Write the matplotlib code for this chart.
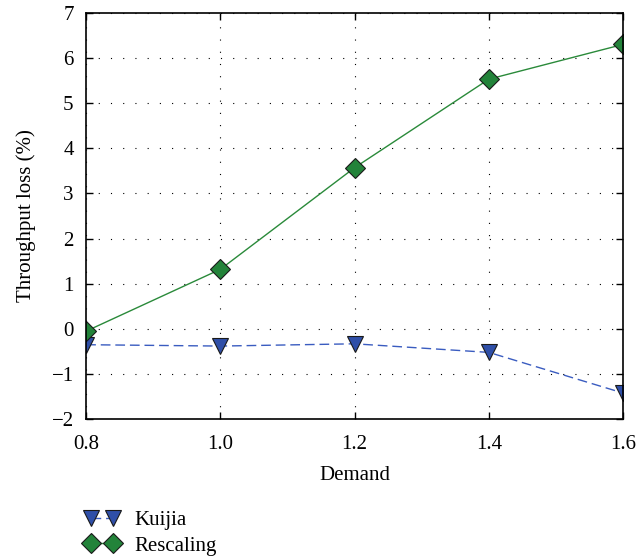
import numpy as np
import matplotlib.pyplot as plt

plt.rcParams['font.family'] = ['Liberation Serif', 'DejaVu Serif']

demand = [0.8, 1.0, 1.2, 1.4, 1.6]
kuijia = [-0.35, -0.38, -0.33, -0.52, -1.42]
rescaling = [-0.05, 1.32, 3.57, 5.53, 6.30]

fig = plt.figure(figsize=(6.43, 5.56), dpi=100)
ax = fig.add_axes([0.134, 0.246, 0.835, 0.731])

ax.plot(demand, kuijia, color='#3a5cc0', lw=1.0, ls=(0, (7, 3.5)), marker='v', ms=11,
        mfc='#2f4fa8', mec='#1a1a1a', mew=0.8, label='Kuijia')
ax.plot(demand, rescaling, '-', color='#2a8a3a', lw=1.0, marker='D', ms=10,
        mfc='#23833a', mec='#1a1a1a', mew=0.8, label='Rescaling')

ax.set_xlim(0.8, 1.6)
ax.set_ylim(-2, 7)
ax.set_xticks(demand)
ax.set_xticklabels(['0.8', '1.0', '1.2', '1.4', '1.6'])
ax.set_yticks(range(-2, 8))
ax.set_yticklabels(['\u22122', '\u22121', '0', '1', '2', '3', '4', '5', '6', '7'])
ax.tick_params(direction='in', top=True, right=True, labelsize=15, length=5, width=1)
ax.tick_params(axis='x', pad=11)
ax.tick_params(axis='y', pad=9)
ax.grid(True, linestyle=(0, (1, 10)), color='black', lw=0.8)
for s in ax.spines.values():
    s.set_linewidth(1.2)

ax.set_xlabel('Demand', fontsize=15, labelpad=9)
ax.set_ylabel('Throughput loss (%)', fontsize=15, labelpad=11)

fig.legend(loc='upper left', bbox_to_anchor=(0.115, 0.1), frameon=False,
           numpoints=2, fontsize=15, handlelength=1.66, labelspacing=0.27,
           handletextpad=0.75, borderpad=0)

fig.savefig('out.png', dpi=100)
